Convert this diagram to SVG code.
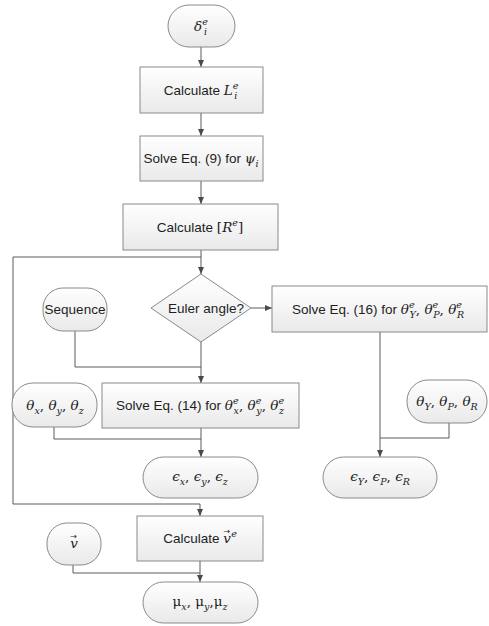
<svg xmlns="http://www.w3.org/2000/svg" width="489" height="626" viewBox="0 0 489 626">
<style>
.shape{fill:url(#g);stroke:#8a8a8a;stroke-width:1}
.c{fill:none;stroke:#5a5a5a;stroke-width:1}
.t{font-family:"Liberation Sans",Arial,sans-serif;font-size:13.5px;fill:#1e1e1e;text-anchor:middle}
.m{font-family:"DejaVu Serif",serif;font-style:italic;font-size:13.5px}
.u{font-family:"DejaVu Serif",serif;font-size:13.5px}
.s{font-family:"DejaVu Serif",serif;font-style:italic;font-size:9.5px}
.ar{font-family:"DejaVu Sans",sans-serif;font-size:8px}
</style>
<defs>
<linearGradient id="g" x1="0" y1="0" x2="0" y2="1">
<stop offset="0" stop-color="#ffffff"/>
<stop offset="1" stop-color="#e9e9e9"/>
</linearGradient>
<marker id="a" markerWidth="7" markerHeight="6" refX="7" refY="3" orient="auto" markerUnits="userSpaceOnUse">
<path d="M0,0 L7,3 L0,6 z" fill="#4a4a4a"/>
</marker>
</defs>
<g id="connectors">
<path class="c" d="M201,47 V67" marker-end="url(#a)"/>
<path class="c" d="M201,113 V136" marker-end="url(#a)"/>
<path class="c" d="M201,181 V204" marker-end="url(#a)"/>
<path class="c" d="M201,250 V274" marker-end="url(#a)"/>
<path class="c" d="M201,257 H13 V504 H200 V516" marker-end="url(#a)"/>
<path class="c" d="M251,308 H272" marker-end="url(#a)"/>
<path class="c" d="M75,331 V367 H201"/>
<path class="c" d="M201,342 V383" marker-end="url(#a)"/>
<path class="c" d="M54,427 V439 H201"/>
<path class="c" d="M201,428 V457" marker-end="url(#a)"/>
<path class="c" d="M380,332 V457" marker-end="url(#a)"/>
<path class="c" d="M449,423 V438 H380"/>
<path class="c" d="M73,565 V573 H200"/>
<path class="c" d="M200,561 V582" marker-end="url(#a)"/>
</g>
<g id="n-delta">
<rect class="shape" x="168" y="5" width="67" height="42" rx="21"/>
<text class="t" x="201" y="31"><tspan class="m">δ</tspan><tspan class="s" dy="-6">e</tspan><tspan class="s" dx="-4" dy="10">i</tspan></text>
</g>
<g id="n-calcL">
<rect class="shape" x="140" y="67" width="123" height="46"/>
<text class="t" x="201" y="95">Calculate <tspan class="m">L</tspan><tspan class="s" dy="-6">e</tspan><tspan class="s" dx="-4" dy="10">i</tspan></text>
</g>
<g id="n-solve9">
<rect class="shape" x="140" y="136" width="123" height="45"/>
<text class="t" x="201" y="163">Solve Eq. (9) for <tspan class="m">ψ</tspan><tspan class="s" dy="4">i</tspan></text>
</g>
<g id="n-calcR">
<rect class="shape" x="123" y="204" width="155" height="46"/>
<text class="t" x="200" y="232">Calculate <tspan class="u">[</tspan><tspan class="m">R</tspan><tspan class="s" dy="-6">e</tspan><tspan class="u" dy="6">]</tspan></text>
</g>
<g id="n-euler">
<polygon class="shape" points="201,274 251,308 201,342 151,308"/>
<text class="t" x="206" y="313">Euler angle?</text>
</g>
<g id="n-sequence">
<rect class="shape" x="43" y="288" width="64" height="43" rx="20"/>
<text class="t" x="75" y="314">Sequence</text>
</g>
<g id="n-solve16">
<rect class="shape" x="272" y="286" width="215" height="46"/>
<text class="t" x="378" y="314">Solve Eq. (16) for <tspan class="m">θ</tspan><tspan class="s" dy="-6">e</tspan><tspan class="s" dx="-5" dy="10">Y</tspan><tspan class="u" dy="-4">, </tspan><tspan class="m">θ</tspan><tspan class="s" dy="-6">e</tspan><tspan class="s" dx="-5" dy="10">P</tspan><tspan class="u" dy="-4">, </tspan><tspan class="m">θ</tspan><tspan class="s" dy="-6">e</tspan><tspan class="s" dx="-5" dy="10">R</tspan></text>
</g>
<g id="n-thetaxyz">
<rect class="shape" x="12" y="383" width="85" height="44" rx="21"/>
<text class="t" x="55" y="410"><tspan class="m">θ</tspan><tspan class="s" dy="4">x</tspan><tspan class="u" dy="-4">, </tspan><tspan class="m">θ</tspan><tspan class="s" dy="4">y</tspan><tspan class="u" dy="-4">, </tspan><tspan class="m">θ</tspan><tspan class="s" dy="4">z</tspan></text>
</g>
<g id="n-solve14">
<rect class="shape" x="102" y="383" width="197" height="45"/>
<text class="t" x="200" y="410">Solve Eq. (14) for <tspan class="m">θ</tspan><tspan class="s" dy="-6">e</tspan><tspan class="s" dx="-5" dy="10">x</tspan><tspan class="u" dy="-4">, </tspan><tspan class="m">θ</tspan><tspan class="s" dy="-6">e</tspan><tspan class="s" dx="-5" dy="10">y</tspan><tspan class="u" dy="-4">, </tspan><tspan class="m">θ</tspan><tspan class="s" dy="-6">e</tspan><tspan class="s" dx="-5" dy="10">z</tspan></text>
</g>
<g id="n-thetaYPR">
<rect class="shape" x="407" y="380" width="80" height="43" rx="21"/>
<text class="t" x="447" y="406"><tspan class="m">θ</tspan><tspan class="s" dy="4">Y</tspan><tspan class="u" dy="-4">, </tspan><tspan class="m">θ</tspan><tspan class="s" dy="4">P</tspan><tspan class="u" dy="-4">, </tspan><tspan class="m">θ</tspan><tspan class="s" dy="4">R</tspan></text>
</g>
<g id="n-epsxyz">
<rect class="shape" x="143" y="457" width="115" height="41" rx="20.5"/>
<text class="t" x="200" y="481"><tspan class="m">ϵ</tspan><tspan class="s" dy="4">x</tspan><tspan class="u" dy="-4">, </tspan><tspan class="m">ϵ</tspan><tspan class="s" dy="4">y</tspan><tspan class="u" dy="-4">, </tspan><tspan class="m">ϵ</tspan><tspan class="s" dy="4">z</tspan></text>
</g>
<g id="n-epsYPR">
<rect class="shape" x="323" y="457" width="114" height="41" rx="20.5"/>
<text class="t" x="380" y="481"><tspan class="m">ϵ</tspan><tspan class="s" dy="4">Y</tspan><tspan class="u" dy="-4">, </tspan><tspan class="m">ϵ</tspan><tspan class="s" dy="4">P</tspan><tspan class="u" dy="-4">, </tspan><tspan class="m">ϵ</tspan><tspan class="s" dy="4">R</tspan></text>
</g>
<g id="n-calcv">
<rect class="shape" x="137" y="516" width="126" height="45"/>
<text class="t" x="200" y="543">Calculate <tspan class="m">v</tspan><tspan class="ar" dx="-7.5" dy="-9">→</tspan><tspan class="s" dx="1" dy="3">e</tspan></text>
</g>
<g id="n-v">
<rect class="shape" x="47" y="523" width="54" height="42" rx="20"/>
<text class="t" x="74" y="548"><tspan class="m">v</tspan><tspan class="ar" dx="-7.5" dy="-9">→</tspan></text>
</g>
<g id="n-mu">
<rect class="shape" x="143" y="582" width="115" height="41" rx="20.5"/>
<text class="t" x="200" y="606"><tspan class="u">μ</tspan><tspan class="s" dy="4">x</tspan><tspan class="u" dy="-4">, μ</tspan><tspan class="s" dy="4">y</tspan><tspan class="u" dy="-4">,μ</tspan><tspan class="s" dy="4">z</tspan></text>
</g>
</svg>
